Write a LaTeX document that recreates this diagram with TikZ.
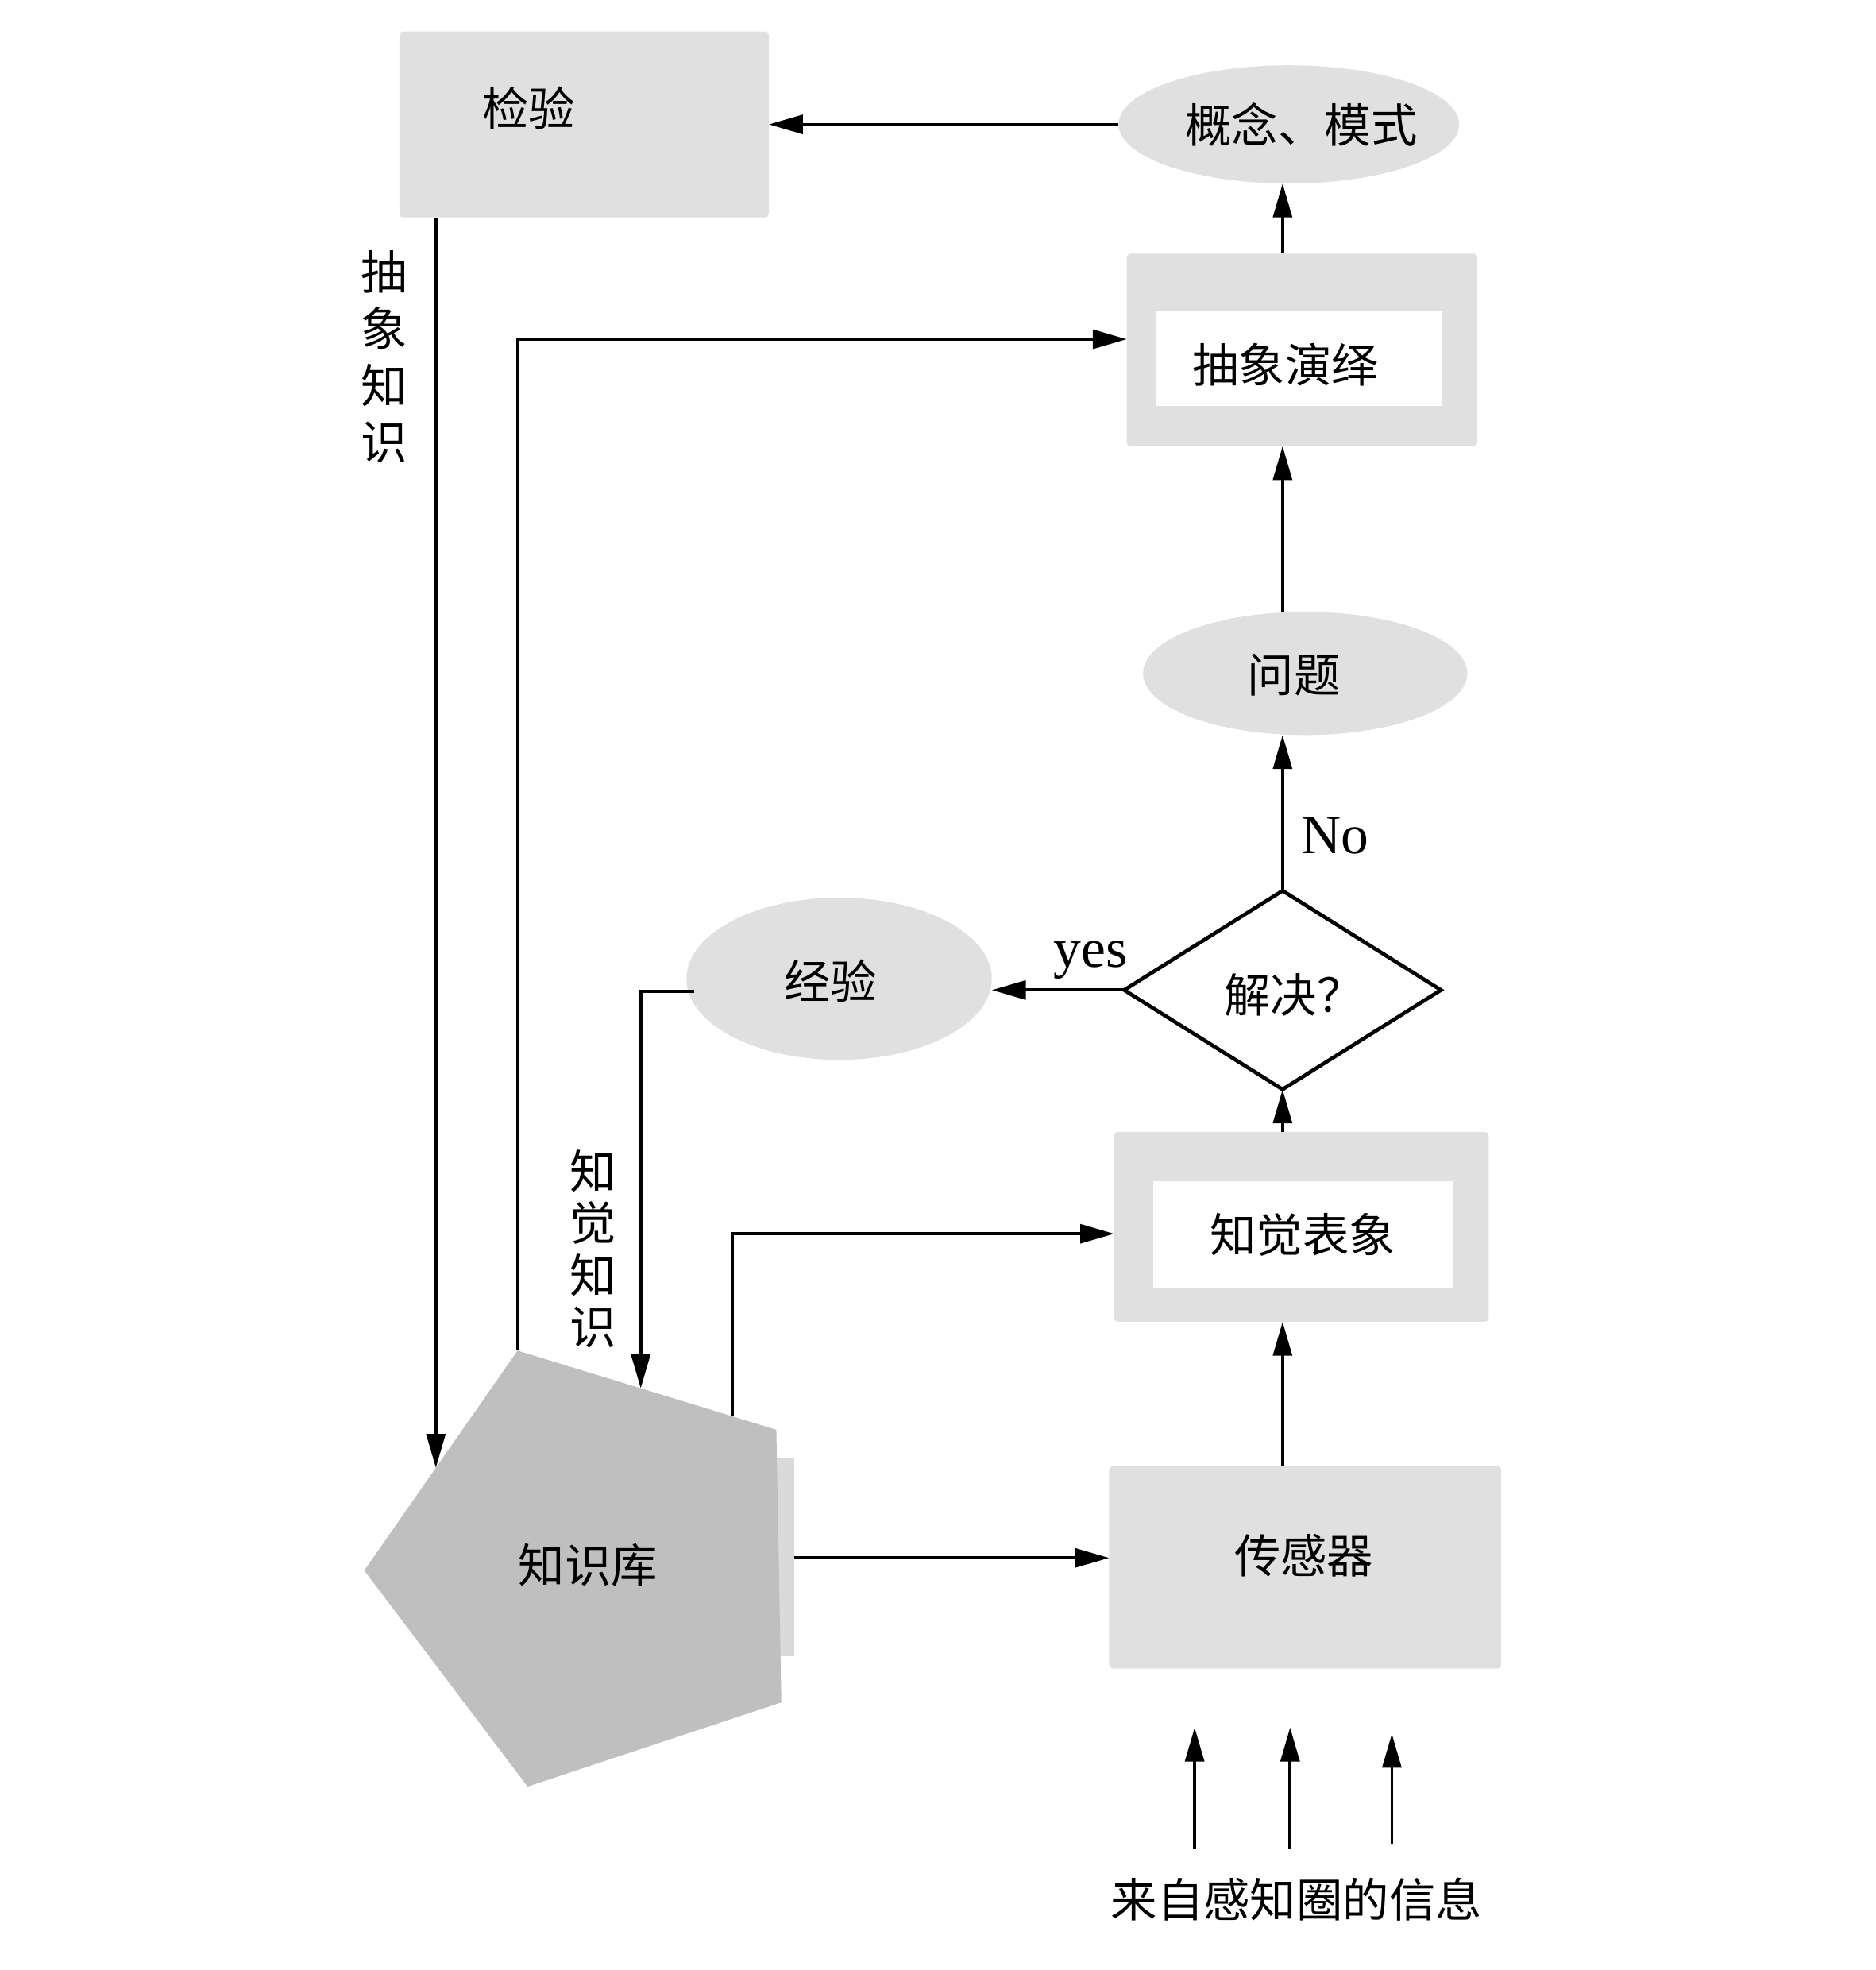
\documentclass[tikz,border=0pt]{standalone}
\usepackage{fontspec}
\setmainfont{Liberation Serif}
\newfontfamily\cjk{Noto Sans CJK SC}
\usetikzlibrary{shapes.geometric,arrows.meta,calc}
\definecolor{boxgray}{HTML}{E0E0E0}
\definecolor{pentgray}{HTML}{BFBFBF}
\definecolor{edgegray}{HTML}{DADADA}
\begin{document}
\begin{tikzpicture}[x=0.01cm,y=-0.01cm,
  every node/.style={inner sep=0pt,outer sep=0pt},
  txt/.style={font=\cjk\fontsize{10.5}{12}\selectfont},
  lat/.style={font=\fontsize{12.5}{14}\selectfont},
  graybox/.style={fill=boxgray,rounded corners=0.03cm},
  whitebox/.style={fill=white},
  oval/.style={ellipse,fill=boxgray},
  arr/.style={line width=0.7pt,-{Triangle[length=0.27cm,width=0.15cm]}},
  ln/.style={line width=0.7pt}]
\useasboundingbox (0,0) rectangle (1493,1568);
% boxes
\node[graybox,minimum width=2.94cm,minimum height=1.48cm] (jy) at (465,99) {};
\node[txt] (jyt) at (421,86) {检验};
\node[oval,minimum width=2.71cm,minimum height=0.94cm] (gn) at (1026,99) {};
\node[txt] (gnt) at (1036,99) {概念、模式};
\node[graybox,minimum width=2.79cm,minimum height=1.53cm] (cx) at (1036.5,278.5) {};
\node[whitebox,minimum width=2.28cm,minimum height=0.76cm] (cxi) at (1034,285) {};
\node[txt] (cxt) at (1023,290) {抽象演绎};
\node[oval,minimum width=2.58cm,minimum height=0.98cm] (wt) at (1039,536) {};
\node[txt] (wtt) at (1030,537) {问题};
\node[diamond,draw,line width=0.85pt,minimum width=2.52cm,minimum height=1.58cm] (dia) at (1021,788) {};
\node[txt] (diat) at (1030,792) {解决？};
\node[oval,minimum width=2.43cm,minimum height=1.29cm] (jy2) at (668,779) {};
\node[txt] (jy2t) at (661,781) {经验};
\node[graybox,minimum width=2.98cm,minimum height=1.51cm] (zj) at (1036,976.5) {};
\node[whitebox,minimum width=2.39cm,minimum height=0.85cm] (zji) at (1037.5,982.5) {};
\node[txt] (zjt) at (1037,983) {知觉表象};
\node[graybox,minimum width=3.12cm,minimum height=1.61cm] (cgq) at (1039,1247.5) {};
\node[txt] (cgqt) at (1038,1238) {传感器};
% pentagon
\fill[edgegray] (612,1160) rectangle (632,1318);
\coordinate (P1) at (412,1075);
\coordinate (P2) at (618,1138);
\coordinate (P3) at (622,1355);
\coordinate (P4) at (420,1422);
\coordinate (P5) at (290,1250);
\fill[pentgray] (P1) -- (P2) -- (P3) -- (P4) -- (P5) -- cycle;
\node[txt] (kb) at (468,1246) {知识库};
\coordinate (kbA) at ($(P5)!0.467!(P1)$);
\coordinate (kbB) at ($(P1)!0.476!(P2)$);
\coordinate (kbC) at ($(P1)!0.830!(P2)$);
\coordinate (kbR) at (632,1240);
% connectors
\draw[arr] (gn.west) -- (gn.west -| jy.east);
\draw[arr] (dia.north |- cx.north) -- (dia.north |- gn.south);
\draw[arr] (dia.north |- wt.north) -- (dia.north |- cx.south);
\draw[arr] (dia.north) -- (dia.north |- wt.south);
\node[lat] (no) at (1063,665) {No};
\draw[arr] (dia.west) -- (jy2.east |- dia.west);
\node[lat] (yes) at (868,764) {yes};
\draw[arr] (dia.south |- zj.north) -- (dia.south);
\draw[arr] (dia.south |- cgq.north) -- (dia.south |- zj.south);
\draw[arr] (kbR) -- (kbR -| cgq.west);
\draw[arr] (kbA |- jy.south) -- (kbA);
\draw[arr] (P1) |- ($(cx.west)+(0,-8.5)$);
\draw[arr] ($(jy2.west)+(6,10)$) -| (kbB);
\draw[arr] (kbC) |- ($(zj.west)+(0,5.5)$);
% vertical labels
\node[txt,align=center] (cxzs) at (306,284) {抽\\[0.03cm]象\\[0.03cm]知\\[0.03cm]识};
\node[txt,align=center] (zjzs) at (472,994) {知\\[-0.01cm]觉\\[-0.01cm]知\\[-0.01cm]识};
% bottom inputs
\node[txt] (info) at (1032,1512) {来自感知圈的信息};
\coordinate (s1) at (951,1472);
\coordinate (e1) at (951,1375);
\coordinate (s2) at (1027,1472);
\coordinate (e2) at (1027,1375);
\coordinate (s3) at (1108,1468);
\coordinate (e3) at (1108,1380);
\draw[arr] (s1) -- (e1);
\draw[arr] (s2) -- (e2);
\draw[arr] (s3) -- (e3);
\end{tikzpicture}
\end{document}
